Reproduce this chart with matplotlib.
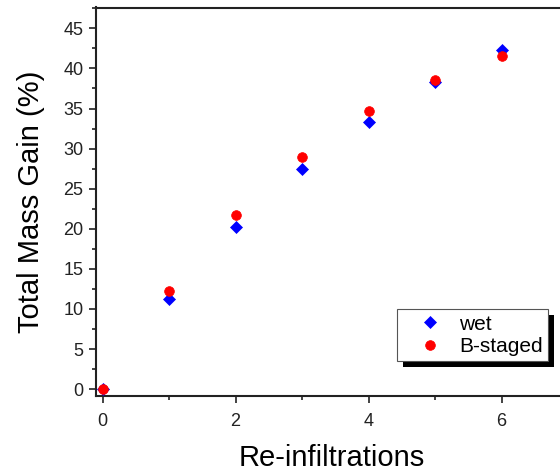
import matplotlib
matplotlib.use("Agg")
import matplotlib.pyplot as plt
from matplotlib.ticker import MultipleLocator
from matplotlib.patches import Rectangle

plt.rcParams['font.family'] = ['Liberation Sans', 'DejaVu Sans']

reinfiltrations = [0, 1, 2, 3, 4, 5, 6]
wet = [0.0, 11.3, 20.2, 27.4, 33.3, 38.3, 42.3]
b_staged = [0.0, 12.2, 21.7, 28.9, 34.7, 38.6, 41.5]

fig = plt.figure(figsize=(5.6, 4.72), dpi=100)
ax = fig.add_axes([96/560, 76/472, 472/560, 388.5/472])

ax.plot(reinfiltrations, wet, linestyle='none', marker='D', ms=6.5,
        color='#0000ff', mec='#0000ff', mew=0.5, label='wet', zorder=3)
ax.plot(reinfiltrations, b_staged, linestyle='none', marker='o', ms=7.0,
        color='#ff0000', mec='#ff0000', mew=0.5, label='B-staged', zorder=4)

ax.set_xlim(-0.1, 7.0)
ax.set_ylim(-0.85, 47.6)
ax.xaxis.set_major_locator(MultipleLocator(2))
ax.xaxis.set_minor_locator(MultipleLocator(1))
ax.yaxis.set_major_locator(MultipleLocator(5))
ax.yaxis.set_minor_locator(MultipleLocator(2.5))

ax.tick_params(which='both', direction='out', width=1.2, labelsize=13,
               top=False, right=False, colors='#222222')
ax.tick_params(which='major', length=5)
ax.tick_params(axis='x', which='major', pad=7)
ax.tick_params(axis='y', which='major', pad=4)
ax.tick_params(which='minor', length=3)
for s in ax.spines.values():
    s.set_linewidth(1.5)
    s.set_color('#222222')

ax.set_xlabel('Re-infiltrations', fontsize=21, labelpad=10)
ax.set_ylabel('Total Mass Gain (%)', fontsize=21, labelpad=13)

leg = ax.legend(loc='lower right', bbox_to_anchor=(0.957, 0.090),
                fontsize=15, frameon=True, fancybox=False, framealpha=1.0,
                handlelength=2.6, handletextpad=0.1, borderpad=0.25,
                labelspacing=0.15, borderaxespad=0.0)
leg.get_frame().set_edgecolor('#555555')
leg.get_frame().set_linewidth(0.8)
leg.set_zorder(6)

fig.canvas.draw()
bb = leg.get_window_extent()
shadow = Rectangle((bb.x0 + 6, bb.y0 - 6), bb.width, bb.height,
                   transform=None, facecolor='black', edgecolor='none',
                   zorder=5, clip_on=False)
ax.add_artist(shadow)

fig.savefig('out.png', dpi=100)
